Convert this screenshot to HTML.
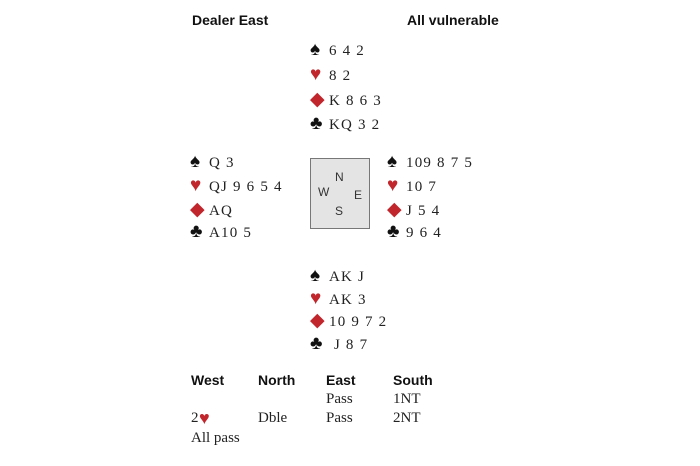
<!DOCTYPE html>
<html><head><meta charset="utf-8"><style>
body{margin:0;width:700px;height:466px;background:#fff;position:relative;overflow:hidden;font-family:"Liberation Serif",serif;color:#222}
.a{position:absolute;white-space:pre;line-height:1}
.h{font-family:"Liberation Sans",sans-serif;font-weight:bold;font-size:14px;color:#111}
.c{font-size:15px;letter-spacing:1.2px}
.s{display:inline-block;width:19px;font-size:19px;line-height:15px;color:#111;letter-spacing:0}
.r{color:#c0262c}
.box{position:absolute;left:310px;top:158px;width:60px;height:71px;background:#e4e4e4;border:1.5px solid #777;box-sizing:border-box;font-family:"Liberation Sans",sans-serif;font-size:12px;color:#333}
.box span{position:absolute;line-height:1}
</style></head><body>
<div class="a h" style="left:192px;top:13px">Dealer East</div>
<div class="a h" style="left:407px;top:13px">All vulnerable</div>

<div class="a c" style="left:310px;top:42px"><span class="s">♠</span>6 4 2</div>
<div class="a c" style="left:310px;top:67px"><span class="s r">♥</span>8 2</div>
<div class="a c" style="left:310px;top:92px"><span class="s r">◆</span>K 8 6 3</div>
<div class="a c" style="left:310px;top:116px"><span class="s">♣</span>KQ 3 2</div>

<div class="a c" style="left:190px;top:154px"><span class="s">♠</span>Q 3</div>
<div class="a c" style="left:190px;top:178px"><span class="s r">♥</span>QJ 9 6 5 4</div>
<div class="a c" style="left:190px;top:202px"><span class="s r">◆</span>AQ</div>
<div class="a c" style="left:190px;top:224px"><span class="s">♣</span>A10 5</div>

<div class="box"><span style="left:24px;top:12px">N</span><span style="left:7px;top:27px">W</span><span style="left:43px;top:30px">E</span><span style="left:24px;top:46px">S</span></div>

<div class="a c" style="left:387px;top:154px"><span class="s">♠</span>109 8 7 5</div>
<div class="a c" style="left:387px;top:178px"><span class="s r">♥</span>10 7</div>
<div class="a c" style="left:387px;top:202px"><span class="s r">◆</span>J 5 4</div>
<div class="a c" style="left:387px;top:224px"><span class="s">♣</span>9 6 4</div>

<div class="a c" style="left:310px;top:268px"><span class="s">♠</span>AK J</div>
<div class="a c" style="left:310px;top:291px"><span class="s r">♥</span>AK 3</div>
<div class="a c" style="left:310px;top:313px"><span class="s r">◆</span>10 9 7 2</div>
<div class="a c" style="left:310px;top:336px"><span class="s">♣</span> J 8 7</div>

<div class="a h" style="left:191px;top:373px">West</div>
<div class="a h" style="left:258px;top:373px">North</div>
<div class="a h" style="left:326px;top:373px">East</div>
<div class="a h" style="left:393px;top:373px">South</div>
<div class="a c" style="left:326px;top:392px;letter-spacing:0">Pass</div>
<div class="a c" style="left:393px;top:392px;letter-spacing:0">1NT</div>
<div class="a c" style="left:191px;top:411px;letter-spacing:0">2</div>
<div class="a r" style="left:199px;top:409px;font-size:18px">♥</div>
<div class="a c" style="left:258px;top:411px;letter-spacing:0">Dble</div>
<div class="a c" style="left:326px;top:411px;letter-spacing:0">Pass</div>
<div class="a c" style="left:393px;top:411px;letter-spacing:0">2NT</div>
<div class="a c" style="left:191px;top:431px;letter-spacing:0">All pass</div>
</body></html>
